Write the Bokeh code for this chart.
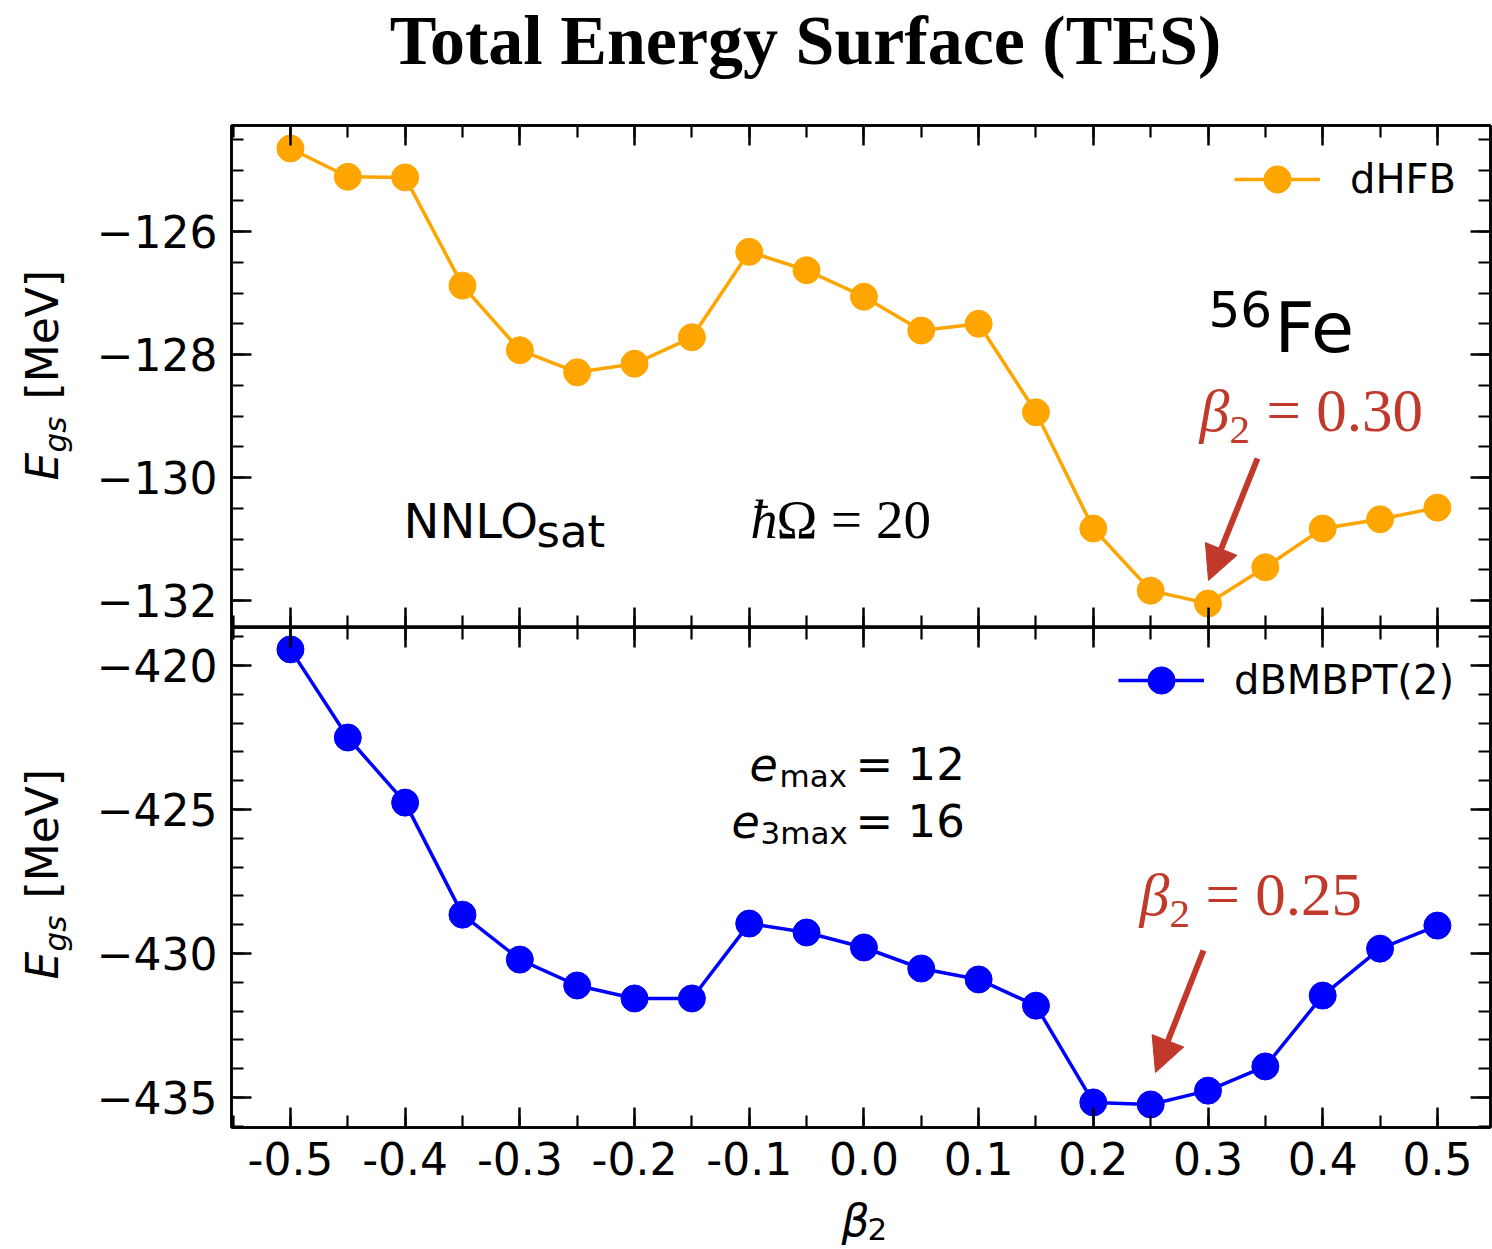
from math import pi, sin, cos
import numpy as np
from bokeh.plotting import figure
from bokeh.models import (Range1d, LinearAxis, FixedTicker, CustomJSTickFormatter,
                          Label, Arrow, NormalHead)
from bokeh.layouts import column, row
from bokeh.embed import file_html
from bokeh.resources import INLINE

# ---------------- data ----------------
beta2 = [-0.50, -0.45, -0.40, -0.35, -0.30, -0.25, -0.20, -0.15, -0.10, -0.05, 0.00,
         0.05, 0.10, 0.15, 0.20, 0.25, 0.30, 0.35, 0.40, 0.45, 0.50]
e_dhfb = [-124.65, -125.11, -125.12, -126.88, -127.93, -128.29, -128.15, -127.72,
          -126.33, -126.63, -127.06, -127.61, -127.50, -128.94, -130.83, -131.84,
          -132.05, -131.46, -130.83, -130.68, -130.49]
e_dbmbpt = [-419.44, -422.50, -424.76, -428.65, -430.21, -431.11, -431.56, -431.56,
            -428.96, -429.27, -429.79, -430.52, -430.90, -431.81, -435.17, -435.24,
            -434.76, -433.92, -431.46, -429.83, -429.03]

x_ticks = [-0.5, -0.4, -0.3, -0.2, -0.1, 0.0, 0.1, 0.2, 0.3, 0.4, 0.5]
x_tick_labels = ["-0.5", "-0.4", "-0.3", "-0.2", "-0.1", "0.0", "0.1", "0.2", "0.3", "0.4", "0.5"]
top_y_ticks = [-132, -130, -128, -126]
top_y_tick_labels = ["\u2212132", "\u2212130", "\u2212128", "\u2212126"]
bot_y_ticks = [-435, -430, -425, -420]
bot_y_tick_labels = ["\u2212435", "\u2212430", "\u2212425", "\u2212420"]

series_names = ["dHFB", "dBMBPT(2)"]
series_colors = ["#FFA500", "#0000FF"]
RED = "#C0392B"

# ---------------- layout constants (pixels of the whole page) ----------------
W, H = 1492, 1249
TITLE_H = 110          # title strip height
XLAB_H = 54            # x label strip height
YLAB_W = 80            # y label strip width
FX0, FX1 = 231, 1490
TOP_FY0, TOP_FY1 = 125, 627
BOT_FY0, BOT_FY1 = 627, 1127
XR = (-0.5514, 0.5463)
TOP_YR = (-132.439, -124.276)
BOT_YR = (-436.04, -418.68)

x_range = Range1d(*XR)


def px_to_x(px):
    return XR[0] + (px - FX0) / (FX1 - FX0) * (XR[1] - XR[0])


def top_y(py):
    return TOP_YR[1] - (py - TOP_FY0) / (TOP_FY1 - TOP_FY0) * (TOP_YR[1] - TOP_YR[0])


def bot_y(py):
    return BOT_YR[1] - (py - BOT_FY0) / (BOT_FY1 - BOT_FY0) * (BOT_YR[1] - BOT_YR[0])


FMT_CODE = """
let best = 0, d = Infinity;
for (let i = 0; i < tv.length; i++) {
  const dd = Math.abs(tv[i] - tick);
  if (dd < d) { d = dd; best = i; }
}
return tl[best];
"""


def fmt(ticks, labels):
    return CustomJSTickFormatter(args=dict(tv=ticks, tl=labels), code=FMT_CODE)


EMPTY_FMT = CustomJSTickFormatter(code="return '';")


def style_axis(ax, ticker, formatter, show_labels, standoff=14, size="44px"):
    ax.ticker = ticker
    ax.axis_line_color = "black"
    ax.axis_line_width = 2.5
    ax.major_tick_line_color = "black"
    ax.major_tick_line_width = 2.5
    ax.minor_tick_line_color = "black"
    ax.minor_tick_line_width = 2.2
    ax.major_tick_in = 20
    ax.major_tick_out = 0
    ax.minor_tick_in = 12
    ax.minor_tick_out = 0
    if show_labels:
        ax.formatter = formatter
        ax.major_label_text_font = "DejaVu Sans"
        ax.major_label_text_font_size = size
        ax.major_label_text_color = "black"
        ax.major_label_standoff = standoff
    else:
        ax.formatter = EMPTY_FMT
        ax.major_label_text_font_size = "1px"
        ax.major_label_standoff = 0


BASE_K = 0.4  # empirical shift between requested and drawn alphabetic baseline


def add_text(p, text, x, y, size, font="DejaVu Sans", style="normal",
             color="black", align="left", angle=0.0, conv_x=None, conv_y=None):
    # (x, y) are page/strip pixel positions of the text baseline start
    sx = x - BASE_K * size * sin(angle)
    sy = y - BASE_K * size * cos(angle)
    xx = conv_x(sx) if conv_x else sx
    yy = conv_y(sy) if conv_y else sy
    p.add_layout(Label(x=xx, y=yy, text=text, text_font=font,
                       text_font_size=f"{size}px", text_font_style=style,
                       text_color=color, text_align=align, text_baseline="alphabetic",
                       angle=angle))


x_minor = [float(v) for v in np.round(np.arange(-0.55, 0.5501, 0.05), 3)]
x_ticker = FixedTicker(ticks=x_ticks, minor_ticks=x_minor)
top_ticker = FixedTicker(ticks=top_y_ticks,
                         minor_ticks=[float(v) for v in np.arange(-133.0, -123.9, 0.5)])
bot_ticker = FixedTicker(ticks=bot_y_ticks,
                         minor_ticks=[float(v) for v in np.arange(-437.0, -417.9, 1.0)])


def make_fig(height, yr, border_top, border_bottom, yticker, yfmt, show_xlabels):
    p = figure(width=W - YLAB_W, height=height, x_range=x_range, y_range=Range1d(*yr),
               output_backend="svg", toolbar_location=None,
               x_axis_location=None, y_axis_location=None,
               min_border_left=FX0 - YLAB_W, min_border_right=W - FX1,
               min_border_top=border_top, min_border_bottom=border_bottom,
               background_fill_color="white", border_fill_color="white")
    p.xgrid.visible = False
    p.ygrid.visible = False
    p.outline_line_color = "black"
    p.outline_line_width = 2.5

    below = LinearAxis()
    style_axis(below, x_ticker, fmt(x_ticks, x_tick_labels), show_xlabels, standoff=14, size="44px")
    p.add_layout(below, "below")
    above = LinearAxis()
    style_axis(above, x_ticker, None, False)
    p.add_layout(above, "above")
    left = LinearAxis()
    style_axis(left, yticker, yfmt, True, standoff=14, size="44px")
    p.add_layout(left, "left")
    right = LinearAxis()
    style_axis(right, yticker, None, False)
    p.add_layout(right, "right")
    return p


def make_strip(width, height):
    s = figure(width=width, height=height, x_range=Range1d(0, width),
               y_range=Range1d(height, 0), output_backend="svg", toolbar_location=None,
               x_axis_location=None, y_axis_location=None, min_border=0,
               background_fill_color="white", border_fill_color="white")
    s.xgrid.visible = False
    s.ygrid.visible = False
    s.outline_line_color = None
    return s


top = make_fig(TOP_FY1 - TITLE_H, TOP_YR, TOP_FY0 - TITLE_H, 0, top_ticker,
               fmt(top_y_ticks, top_y_tick_labels), False)
bot = make_fig(H - XLAB_H - TOP_FY1, BOT_YR, 0, H - XLAB_H - BOT_FY1, bot_ticker,
               fmt(bot_y_ticks, bot_y_tick_labels), True)

legend_pos = [(1234 - FX0, (TOP_FY1 - TOP_FY0) - (179 - TOP_FY0) - 34),
              (1118 - FX0, (BOT_FY1 - BOT_FY0) - (680 - BOT_FY0) - 34)]

for p, ys, name, col, loc in [(top, e_dhfb, series_names[0], series_colors[0], legend_pos[0]),
                              (bot, e_dbmbpt, series_names[1], series_colors[1], legend_pos[1])]:
    p.line(beta2, ys, line_color=col, line_width=3.5, legend_label=name)
    p.scatter(beta2, ys, marker="circle", size=27, fill_color=col, line_color=col,
              legend_label=name)
    lg = p.legend[0]
    lg.location = loc
    lg.label_text_font = "DejaVu Sans"
    lg.label_text_font_size = "40px"
    lg.label_text_color = "black"
    lg.glyph_width = 86
    lg.glyph_height = 68
    lg.label_standoff = 30
    lg.border_line_alpha = 0
    lg.background_fill_alpha = 0
    lg.margin = 0
    lg.padding = 0

# ---------------- title strip ----------------
title_strip = make_strip(W, TITLE_H)
add_text(title_strip, "Total Energy Surface (TES)", 805, 68, 70,
         font="Liberation Serif", style="bold", align="center")

# ---------------- y label strip ----------------
ylab = make_strip(YLAB_W, H - TITLE_H - XLAB_H)
for off in (0, 499):
    add_text(ylab, "E", 60, 480 + off - TITLE_H, 44, style="italic", angle=pi / 2)
    add_text(ylab, "gs", 67, 452 + off - TITLE_H, 31, style="italic", angle=pi / 2)
    add_text(ylab, "[MeV]", 60, 399 + off - TITLE_H, 44, angle=pi / 2)

# ---------------- x label strip ----------------
xlab = make_strip(W, XLAB_H)
y0 = H - XLAB_H
add_text(xlab, "\u03b2", 841, 1238 - y0, 44, style="italic")
add_text(xlab, "2", 867, 1241 - y0, 31)

# ---------------- top panel annotations ----------------
T = dict(conv_x=px_to_x, conv_y=top_y)
B = dict(conv_x=px_to_x, conv_y=bot_y)
add_text(top, "NNLO", 403, 540, 48, **T)
add_text(top, "sat", 536, 549, 45, **T)
add_text(top, "\u0127", 750, 541, 54, font="Liberation Serif", style="italic", **T)
add_text(top, "\u03a9 = 20", 776, 541, 55, font="Liberation Serif", **T)
add_text(top, "56", 1208, 328, 50, **T)
add_text(top, "Fe", 1274, 355, 70, **T)

add_text(top, "\u03b2", 1199, 434, 60, font="Liberation Serif", style="italic", color=RED, **T)
add_text(top, "2", 1229, 446, 41, font="Liberation Serif", color=RED, **T)
add_text(top, "= 0.30", 1266, 434, 61, font="Liberation Serif", color=RED, **T)
top.add_layout(Arrow(end=NormalHead(size=34, fill_color=RED, line_color=RED, line_width=1),
                     x_start=px_to_x(1257), y_start=top_y(458),
                     x_end=px_to_x(1208), y_end=top_y(580),
                     line_color=RED, line_width=6))

# ---------------- bottom panel annotations ----------------
add_text(bot, "e", 749, 782, 46, style="italic", **B)
add_text(bot, "max", 779, 788, 31, **B)
add_text(bot, "= 12", 855, 782, 45, **B)
add_text(bot, "e", 731, 839, 46, style="italic", **B)
add_text(bot, "3max", 760, 845, 31, **B)
add_text(bot, "= 16", 855, 839, 45, **B)

add_text(bot, "\u03b2", 1139, 918, 60, font="Liberation Serif", style="italic", color=RED, **B)
add_text(bot, "2", 1169, 930, 41, font="Liberation Serif", color=RED, **B)
add_text(bot, "= 0.25", 1205, 918, 61, font="Liberation Serif", color=RED, **B)
bot.add_layout(Arrow(end=NormalHead(size=34, fill_color=RED, line_color=RED, line_width=1),
                     x_start=px_to_x(1203), y_start=bot_y(950),
                     x_end=px_to_x(1155), y_end=bot_y(1072),
                     line_color=RED, line_width=6))

layout = column(title_strip, row(ylab, column(top, bot, spacing=0), spacing=0), xlab, spacing=0)
open("out.html", "w").write(file_html(layout, INLINE))
